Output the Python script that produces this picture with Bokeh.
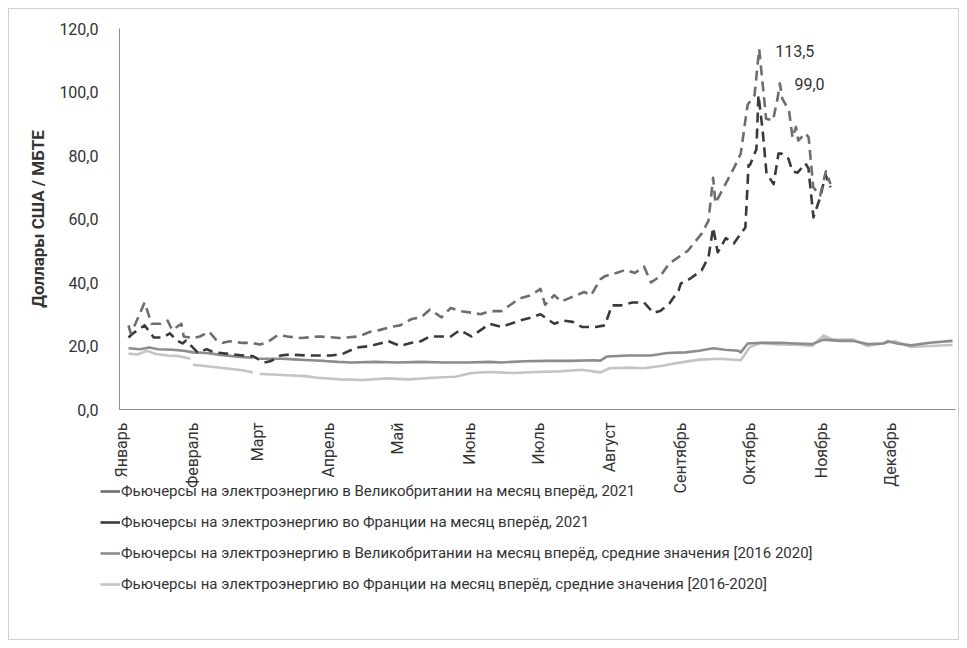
import math
from bokeh.plotting import figure
from bokeh.layouts import column
from bokeh.models import FixedTicker, Legend, LegendItem, Range1d, ColumnDataSource
from bokeh.core.properties import value
from bokeh.embed import file_html
from bokeh.resources import INLINE

NAN = float("nan")

# ---- categories / ticks ----
month_labels = ["Январь", "Февраль", "Март", "Апрель", "Май", "Июнь",
                "Июль", "Август", "Сентябрь", "Октябрь", "Ноябрь", "Декабрь"]
month_start_days = [0, 31, 59, 90, 120, 151, 181, 212, 243, 273, 304, 334]
y_ticks = [0, 20, 40, 60, 80, 100, 120]
y_tick_labels = ["0,0", "20,0", "40,0", "60,0", "80,0", "100,0", "120,0"]

series_names = [
    "Фьючерсы на электроэнергию в Великобритании на месяц вперёд, 2021",
    "Фьючерсы на электроэнергию во Франции на месяц вперёд, 2021",
    "Фьючерсы на электроэнергию в Великобритании на месяц вперёд, средние значения [2016 2020]",
    "Фьючерсы на электроэнергию во Франции на месяц вперёд, средние значения [2016-2020]",
]

# ---- series (day of year, USD / MMBtu) ----
uk_2021_days = [3, 4, 6, 10, 13, 17, 20, 22, 26, 27, 31, 34, 38, 41, 44, 47, 52, 56, 60, 63,
                65, 68, 72, 78, 86, 95, 103, 108, 112, 117, 121, 126, 130, 134, 139, 143, 147,
                152, 156, 160, 165, 169, 173, 178, 182, 184, 188, 191, 196, 201, 204, 208, 210,
                215, 219, 223, 227, 230, 234, 238, 243, 246, 252, 255, 257, 258, 262, 266, 269,
                271, 272, 273, 275, 277, 278.5, 280, 283, 285, 286, 287, 290, 291.5, 293, 294,
                297, 298.5, 300.5, 303.5, 306, 308]
uk_2021_vals = [26.5, 24, 27, 33.7, 27, 27, 28, 25, 27, 23, 22.5, 23, 24.5, 22, 21, 21.5, 21, 21,
                20.5, 21, 22, 23.5, 23, 22.5, 23, 22.5, 23, 24.5, 25, 26, 26.5, 28.5, 29, 31.5,
                29, 32, 31, 30.5, 30, 31, 31, 33, 35, 36, 38, 33, 36, 34, 35.5, 37, 36, 41, 42,
                43, 44, 43, 45, 40, 42, 46, 48.5, 50, 55.4, 59.5, 73, 65, 70.5, 76, 80.6, 91, 96,
                97, 99, 113.5, 102.7, 91.6, 91, 98, 102.7, 98, 94, 85.6, 89, 84.7, 87, 85.7, 70,
                67.4, 75, 71]

fr_2021_days = [3, 5, 10, 14, 18, 21, 24, 26.5, 28, 33, 37, 40, 47, 53, 57, 62, 65, 69, 73, 81,
                86, 91, 96, 102, 108, 116, 121, 126, 130, 134, 143, 147, 152, 156, 160, 165, 169,
                173, 178, 182, 186, 188, 192, 196, 200, 203, 206, 210, 213, 217, 222, 227, 231,
                234, 238, 242, 243, 247, 252, 255, 257, 259, 262.5, 266, 269, 271, 272.4, 273,
                275.8, 276.7, 278.5, 280.2, 283.3, 285.4, 286.7, 289.7, 291.5, 293.7, 297.1,
                298.4, 300.6, 303.6, 305.8, 308]
fr_2021_vals = [22.7, 24, 26.5, 22.7, 22.7, 24, 21.7, 20.8, 21.7, 18, 19, 18, 17.5, 17, 16.8,
                14.8, 15.3, 17, 17.3, 17, 17, 17, 17.5, 19.5, 20, 21.5, 20, 21, 21.5, 23, 23, 25,
                23, 25, 27, 26, 27, 28, 29, 30, 28, 27, 28, 27.6, 26, 26, 26, 26.5, 32.8, 32.8,
                33.7, 33.7, 30.5, 31, 33.4, 37.5, 39.7, 41.2, 43.8, 48, 57.3, 49.5, 54, 52.3,
                55.4, 57.3, 77, 77, 82, 99.0, 88, 74.3, 71, 80.6, 80.6, 79, 75, 74.6, 77.5, 76,
                60.5, 67, 74, 70]

uk_avg_days = [3, 8, 12, 16, 22, 27, 31, 37, 43, 48, 53, 57, 58.5, 60, 65, 70, 75, 82, 88, 94,
               100, 110, 120, 130, 140, 150, 160, 165, 175, 185, 195, 205, 208, 211, 220, 230,
               237, 245, 251, 257, 262, 268, 269, 272, 278, 286, 293, 300, 305, 312, 318, 324,
               331, 333, 337, 343, 351, 361]
uk_avg_vals = [19.3, 19, 19.5, 19, 18.8, 18.5, 18, 17.8, 17.2, 16.8, 16.5, 16.3, NAN, 16, 16,
               16, 15.8, 15.5, 15.3, 15, 14.8, 15, 14.8, 15, 14.8, 14.8, 15, 14.8, 15.2, 15.3,
               15.3, 15.5, 15.4, 16.7, 17, 17, 17.8, 18, 18.5, 19.3, 18.8, 18.5, 18, 20.8, 21,
               21, 20.8, 20.6, 22, 21.6, 21.6, 20.6, 20.8, 21.5, 20.8, 20.2, 21, 21.6]

fr_avg_days = [3, 7, 11, 15, 20, 25, 30, 30.5, 31, 35, 40, 45, 49, 53, 57, 58.5, 60, 66, 72,
               80, 85, 95, 105, 115, 125, 135, 145, 152, 160, 170, 180, 190, 200, 208, 212,
               220, 227, 235, 241, 251, 260, 269, 273, 278, 285, 295, 300, 305, 309, 318, 324,
               332, 336, 343, 351, 361]
fr_avg_vals = [17.6, 17.3, 18.5, 17.5, 17, 16.8, 16, NAN, 14.1, 13.8, 13.4, 13, 12.7, 12.3,
               11.7, NAN, 11.2, 11, 10.8, 10.5, 10, 9.5, 9.3, 9.8, 9.5, 10, 10.3, 11.5, 11.8,
               11.5, 11.8, 12, 12.5, 11.7, 13, 13.2, 13, 13.8, 14.6, 15.7, 16, 15.5, 19.7, 21,
               20.5, 20.3, 20, 23.3, 22, 22, 20, 21, 21.5, 19.7, 20, 20.3]

FONT = "Roboto"
TXT = "#333333"

p = figure(width=949, height=495, output_backend="svg", toolbar_location=None,
           x_range=Range1d(-0.9, 362.3), y_range=Range1d(0, 120),
           min_border_left=110, min_border_right=3, min_border_top=19, min_border_bottom=95)
p.outline_line_color = None
p.grid.grid_line_color = None

# axes
p.xaxis.ticker = FixedTicker(ticks=month_start_days)
p.xaxis.major_label_overrides = {d: m for d, m in zip(month_start_days, month_labels)}
p.xaxis.major_label_orientation = math.pi / 2
p.yaxis.ticker = FixedTicker(ticks=y_ticks)
p.yaxis.major_label_overrides = {t: l for t, l in zip(y_ticks, y_tick_labels)}
for ax in (p.xaxis, p.yaxis):
    ax.axis_line_color = "#8c8c8c"
    ax.axis_line_width = 1
    ax.major_tick_line_color = None
    ax.minor_tick_line_color = None
    ax.major_label_text_font = FONT
    ax.major_label_text_font_size = "16px"
    ax.major_label_text_color = TXT
p.xaxis.major_label_standoff = 7
p.yaxis.major_label_standoff = 15
p.yaxis.axis_label = "Доллары США / МБТЕ"
p.yaxis.axis_label_text_font = FONT
p.yaxis.axis_label_text_font_style = "bold"
p.yaxis.axis_label_text_font_size = "17px"
p.yaxis.axis_label_text_color = TXT
p.yaxis.axis_label_standoff = 8

colors = ["#6e6e6e", "#3a3a3a", "#8c8c8c", "#c4c4c4"]
data = [(uk_2021_days, uk_2021_vals, "10 6"),
        (fr_2021_days, fr_2021_vals, "10 6"),
        (uk_avg_days, uk_avg_vals, "solid"),
        (fr_avg_days, fr_avg_vals, "solid")]

for i in [3, 2, 1, 0]:
    d, v, dash = data[i]
    p.line(d, v, line_color=colors[i], line_width=2.6, line_dash=dash,
           line_join="round", line_cap="butt")

# peak value labels derived from data
def peak(days, vals):
    i = max(range(len(vals)), key=lambda k: -1 if math.isnan(vals[k]) else vals[k])
    return days[i], vals[i]

ukx, uky = peak(uk_2021_days, uk_2021_vals)
frx, fry = peak(fr_2021_days, fr_2021_vals)
lab = ColumnDataSource(dict(x=[ukx, frx], y=[uky, fry],
                            t=[f"{uky:.1f}".replace(".", ","), f"{fry:.1f}".replace(".", ",")],
                            xo=[16, 36], yo=[2, -11]))
p.text(x="x", y="y", text="t", x_offset="xo", y_offset="yo", source=lab,
       text_font=value(FONT), text_font_size="16px", text_color=TXT,
       text_baseline="middle", text_align="left")

# legend panel (second figure, no axes), overlapping the bottom of the chart slightly
q = figure(width=949, height=165, output_backend="svg", toolbar_location=None,
           x_axis_type=None, y_axis_type=None,
           min_border_left=0, min_border_right=0, min_border_top=0, min_border_bottom=0,
           x_range=Range1d(0, 1), y_range=Range1d(0, 1))
q.frame_align = False
q.outline_line_color = None
q.grid.grid_line_color = None
q.background_fill_alpha = 0
q.border_fill_alpha = 0
q.styles = {"margin-top": "-30px"}
items = []
for i in range(4):
    # sample renderers kept outside the visible range; they only feed the legend glyphs
    r = q.line([5, 6], [5, 6], line_color=colors[i], line_width=2.6)
    items.append(LegendItem(label=series_names[i], renderers=[r]))
legend = Legend(items=items, location=(91, 45), orientation="vertical")
legend.border_line_color = None
legend.background_fill_alpha = 0
legend.padding = 0
legend.margin = 0
legend.spacing = 11
legend.glyph_width = 20
legend.glyph_height = 20
legend.label_height = 20
legend.label_standoff = 1
legend.label_text_font = FONT
legend.label_text_font_size = "15px"
legend.label_text_color = TXT
q.add_layout(legend, "center")

layout = column(p, q, spacing=0,
                styles={"border": "1px solid #d0d0d0", "margin-left": "8px", "margin-top": "8px"})

open("out.html", "w").write(file_html(layout, INLINE))
